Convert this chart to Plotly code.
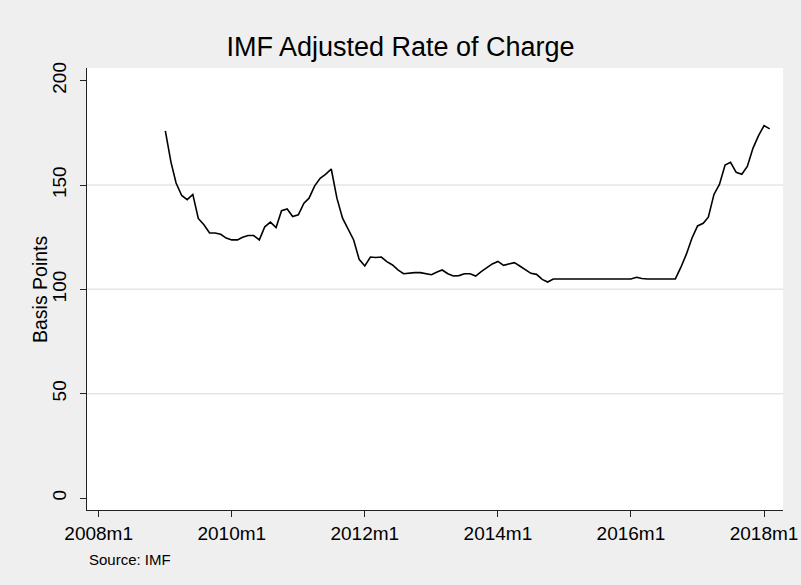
import plotly.graph_objects as go
import pandas as pd

# monthly IMF adjusted rate of charge, 2009m1 - 2018m2 (basis points)
months = pd.date_range("2009-01-01", "2018-02-01", freq="MS")
rate = [
    176, 161, 151, 145, 143, 145.5, 134, 131, 127, 127, 126.4, 124.6,   # 2009
    123.7, 123.7, 125, 125.8, 125.8, 123.7, 130, 132.2, 129.6, 137.7, 138.5, 134.9,  # 2010
    135.7, 141.3, 143.7, 149.6, 153.2, 155.2, 157.7, 143.7, 134.1, 129.3, 123.7, 114.4,  # 2011
    111.2, 115.5, 115.3, 115.5, 113.3, 111.7, 109.3, 107.5, 107.8, 108, 108, 107.5,  # 2012
    107, 108.3, 109.3, 107.5, 106.4, 106.6, 107.5, 107.5, 106.4, 108.5, 110.6, 112.2,  # 2013
    113.4, 111.5, 112.2, 112.8, 111.2, 109.3, 107.7, 107.2, 104.8, 103.5, 105, 105,  # 2014
    105, 105, 105, 105, 105, 105, 105, 105, 105, 105, 105, 105,  # 2015
    105, 105.8, 105.2, 105, 105, 105, 105, 105, 105, 110.5, 117, 124.5,  # 2016
    130.4, 131.7, 134.6, 145.5, 150.3, 159.6, 160.9, 156.1, 155.2, 158.9, 167.6, 173.6,  # 2017
    178.5, 176.9,  # 2018
]

grid_vals = [50, 100, 150]
y_ticks = [0, 50, 100, 150, 200]
x_tick_dates = ["2008-01-01", "2010-01-01", "2012-01-01", "2014-01-01", "2016-01-01", "2018-01-01"]
x_tick_labels = ["2008m1", "2010m1", "2012m1", "2014m1", "2016m1", "2018m1"]

font = "Liberation Sans, Arial, sans-serif"

fig = go.Figure()

for g in grid_vals:
    fig.add_shape(type="line", xref="paper", x0=0, x1=1, yref="y", y0=g, y1=g,
                  line=dict(color="#E6E6E6", width=1.5), layer="below")

fig.add_trace(go.Scatter(
    x=months, y=rate, mode="lines",
    line=dict(color="black", width=1.6),
    showlegend=False,
))

fig.update_layout(
    width=801, height=585,
    margin=dict(l=87, r=18, t=68, b=75),
    paper_bgcolor="#EFEFEF",
    plot_bgcolor="white",
    font=dict(family=font, color="black"),
    title=dict(text="IMF Adjusted Rate of Charge", x=0.5, xanchor="center",
               y=0.921, yanchor="middle", font=dict(size=27, color="black")),
    xaxis=dict(
        range=["2007-10-29", "2018-04-15"],
        tickvals=x_tick_dates, ticktext=x_tick_labels,
        showgrid=False, zeroline=False, automargin=False,
        showline=True, linecolor="#222", linewidth=1.2,
        ticks="outside", ticklen=6, tickcolor="#222",
        tickfont=dict(size=19),
    ),
    yaxis=dict(
        range=[-5.75, 206.1],
        tickvals=y_ticks,
        tickangle=-90,
        showgrid=False, zeroline=False, automargin=False,
        showline=True, linecolor="#222", linewidth=1.2,
        ticks="outside", ticklen=6, tickcolor="#222",
        ticklabelstandoff=6,
        tickfont=dict(size=19),
    ),
    annotations=[
        dict(text="Basis Points", xref="paper", yref="paper", x=-0.0675, y=0.5,
             xanchor="center", yanchor="middle", textangle=-90, showarrow=False,
             font=dict(size=19.5, color="black")),
        dict(text="Source: IMF", xref="paper", yref="paper", x=0.0, y=-0.088,
             xanchor="left", yanchor="top", showarrow=False,
             font=dict(size=15, color="black")),
    ],
)

fig.write_html(
    "out.html",
    config={"displayModeBar": False},
    post_script=(
        "document.body.style.margin='0px';"
        "document.body.style.overflow='hidden';"
        "Plotly.relayout('{plot_id}', {width: 801, height: 585});"
    ),
)
